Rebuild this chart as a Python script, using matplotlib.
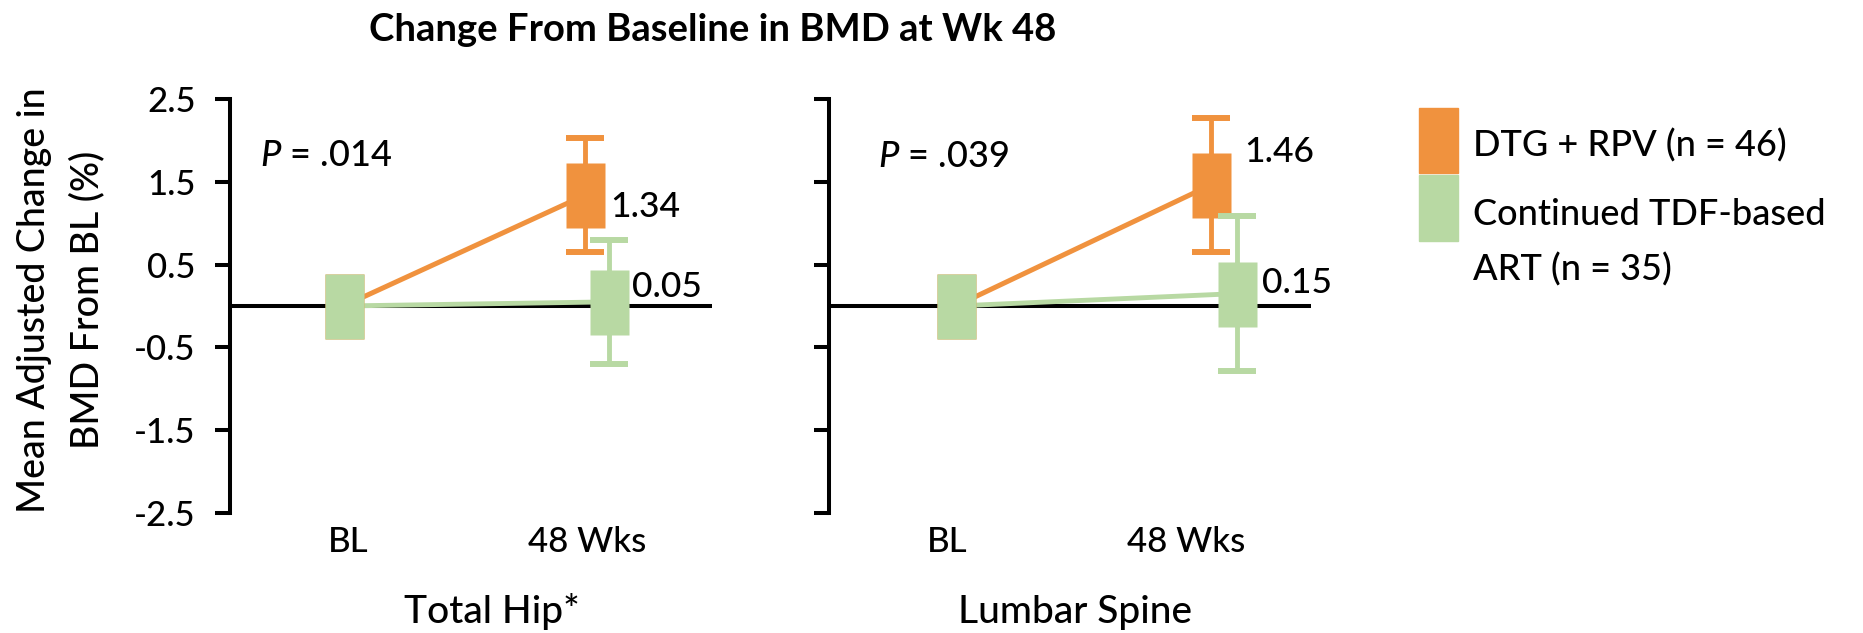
import matplotlib
matplotlib.use("Agg")
import matplotlib.pyplot as plt
from matplotlib.patches import Rectangle

plt.rcParams['font.family'] = ['Lato', 'DejaVu Sans']
plt.rcParams['font.weight'] = 'medium'
plt.rcParams['axes.unicode_minus'] = False
plt.rcParams['mathtext.fontset'] = 'custom'
plt.rcParams['mathtext.it'] = 'Lato:italic:medium'
plt.rcParams['mathtext.rm'] = 'Lato:medium'

# data
sites = ["Total Hip*", "Lumbar Spine"]
timepoints = ["BL", "48 Wks"]
p_values = [".014", ".039"]
dtg_wk48 = [1.34, 1.46]
dtg_err = [0.69, 0.81]
tdf_wk48 = [0.05, 0.15]
tdf_err = [0.75, 0.94]
y_ticks = [-2.5, -1.5, -0.5, 0.5, 1.5, 2.5]
series_labels = ["DTG + RPV (n = 46)", "Continued TDF-based\nART (n = 35)"]

ORANGE = '#F0923E'
GREEN = '#B8D9A3'
W, H = 1863, 633

# marker x per panel: BL, DTG at wk 48, TDF at wk 48
x_pos = [(-0.02, 0.99, 1.09), (0.035, 1.10, 1.21)]
# value label offsets (dx, dy) from each wk-48 point
dtg_lab = [(0.105, -0.15), (0.14, 0.40)]
tdf_lab = [(0.095, 0.185), (0.105, 0.13)]
p_pos = [(-0.37, 1.82), (-0.29, 1.81)]

# tall rectangle marker
rect = [(-0.3, -0.5), (0.3, -0.5), (0.3, 0.5), (-0.3, 0.5), (-0.3, -0.5)]
MS = 65 * 0.72


def fx(px):
    return px / W


def fy(py):
    return 1 - py / H


fig = plt.figure(figsize=(W / 100, H / 100), dpi=100)
axes = [fig.add_axes([fx(230), fy(513), 482 / W, 414 / H]),
        fig.add_axes([fx(829), fy(513), 482 / W, 414 / H])]

for i, ax in enumerate(axes):
    xb, xd, xt = x_pos[i]
    ax.axhline(0, color='black', lw=2.9, zorder=1.5)

    ax.plot([xb, xd], [0, dtg_wk48[i]], color=ORANGE, lw=3.6, zorder=2)
    ax.plot([xb, xt], [0, tdf_wk48[i]], color=GREEN, lw=3.5, zorder=2)

    ax.errorbar([xd], [dtg_wk48[i]], yerr=[dtg_err[i]], fmt='none',
                ecolor=ORANGE, elinewidth=3.5, capsize=13.7, capthick=4.3, zorder=3)
    ax.plot([xb, xd], [0, dtg_wk48[i]], ls='none', marker=rect, ms=MS,
            mfc=ORANGE, mec='none', zorder=3.5)
    ax.errorbar([xt], [tdf_wk48[i]], yerr=[tdf_err[i]], fmt='none',
                ecolor=GREEN, elinewidth=3.5, capsize=13.7, capthick=4.3, zorder=4)
    ax.plot([xb, xt], [0, tdf_wk48[i]], ls='none', marker=rect, ms=MS,
            mfc=GREEN, mec='none', zorder=4.5)

    ax.text(xd + dtg_lab[i][0], dtg_wk48[i] + dtg_lab[i][1], f"{dtg_wk48[i]:.2f}",
            ha='left', va='center', fontsize=25.5, zorder=5)
    ax.text(xt + tdf_lab[i][0], tdf_wk48[i] + tdf_lab[i][1], f"{tdf_wk48[i]:.2f}",
            ha='left', va='center', fontsize=25.5, zorder=5)
    ax.text(p_pos[i][0], p_pos[i][1], f"$P$ = {p_values[i]}",
            ha='left', va='center', fontsize=26)

    ax.set_xlim(-0.495, 1.52)
    ax.set_ylim(-2.5, 2.5)
    for s in ['top', 'right', 'bottom']:
        ax.spines[s].set_visible(False)
    ax.spines['left'].set_linewidth(2.9)

    ax.set_yticks(y_ticks)
    if i == 0:
        ax.set_yticklabels([f"{v:.1f}" for v in y_ticks])
    else:
        ax.tick_params(axis='y', labelleft=False)
    ax.tick_params(axis='y', direction='out', length=10.8, width=2.9,
                   pad=14, labelsize=25)
    ax.set_xticks([0, 1])
    ax.set_xticklabels(timepoints)
    ax.tick_params(axis='x', length=0, pad=9, labelsize=25)

# panel names under each axis
fig.text(fx(492), fy(623), sites[0], ha='center', va='baseline', fontsize=28)
fig.text(fx(1075), fy(623), sites[1], ha='center', va='baseline', fontsize=28)

fig.text(fx(713), fy(41), "Change From Baseline in BMD at Wk 48",
         ha='center', va='baseline', fontsize=27.5, fontweight='bold')
fig.text(fx(61), fy(300), "Mean Adjusted Change in\nBMD From BL (%)",
         rotation=90, ha='center', va='center', fontsize=27,
         linespacing=1.6, multialignment='center')

# legend
fig.add_artist(Rectangle((fx(1419), fy(173)), 39 / W, 65 / H,
                         transform=fig.transFigure, color=ORANGE))
fig.add_artist(Rectangle((fx(1419), fy(241)), 39 / W, 66 / H,
                         transform=fig.transFigure, color=GREEN))
fig.text(fx(1473), fy(145), series_labels[0], va='center', fontsize=26)
fig.text(fx(1473), fy(242), series_labels[1], va='center', fontsize=26,
         linespacing=1.76)

fig.savefig("out.png", dpi=100)
